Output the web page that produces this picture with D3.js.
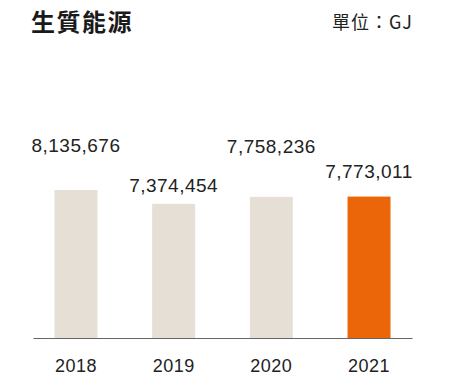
<!DOCTYPE html>
<html>
<head>
<meta charset="utf-8">
<script src="https://cdn.jsdelivr.net/npm/d3@7/dist/d3.min.js"></script>
<style>
  html, body { margin: 0; padding: 0; background: #fff; }
  svg { display: block; }
</style>
</head>
<body>
<div id="chart"></div>
<script>
// Biomass energy use per year (GJ)
const years = ["2018", "2019", "2020", "2021"];
const values = [8135676, 7374454, 7758236, 7773011];
const title = "生質能源";
const unitLabel = "單位：GJ";

const width = 449, height = 375;
const baseY = 338;
const barColors = ["#e6dfd5", "#e6dfd5", "#e6dfd5", "#eb6608"];
// vertical gap between bar top and value label baseline
const labelGaps = [38, 12, 44, 19];

const svg = d3.select("#chart").append("svg")
  .attr("width", width).attr("height", height);

const x = d3.scaleBand().domain(years).range([33, 412]).paddingInner(0.56).paddingOuter(0.22);
const y = d3.scaleLinear().domain([0, 8135676]).range([baseY, 190]);

const numFont = "'Liberation Sans', Arial, Helvetica, sans-serif";
const cjkFont = "'Noto Sans CJK TC', 'Noto Sans CJK SC', sans-serif";

svg.append("text")
  .attr("x", 31).attr("y", 31)
  .attr("font-family", cjkFont).attr("font-weight", 700).attr("font-size", 24)
  .attr("letter-spacing", 1.5)
  .attr("fill", "#1a1a1a").text(title);

svg.append("text")
  .attr("x", 413).attr("y", 29).attr("text-anchor", "end")
  .attr("font-family", cjkFont).attr("font-size", 18)
  .attr("letter-spacing", 1)
  .attr("fill", "#222").text(unitLabel);

svg.selectAll("rect.bar").data(values).join("rect")
  .attr("class", "bar")
  .attr("x", (d, i) => x(years[i]))
  .attr("y", d => y(d))
  .attr("width", x.bandwidth())
  .attr("height", d => baseY - y(d))
  .attr("fill", (d, i) => barColors[i]);

svg.selectAll("text.val").data(values).join("text")
  .attr("class", "val")
  .attr("x", (d, i) => x(years[i]) + x.bandwidth() / 2)
  .attr("y", (d, i) => y(d) - labelGaps[i])
  .attr("text-anchor", "middle")
  .attr("font-family", numFont).attr("font-size", 19)
  .attr("letter-spacing", 0.5)
  .attr("fill", "#222")
  .text(d => d3.format(",")(d));

const axis = svg.append("g").attr("transform", `translate(0,${baseY})`)
  .call(d3.axisBottom(x).tickSize(0).tickPadding(0));
axis.select(".domain").attr("stroke", "#666").attr("stroke-width", 1.2);
axis.selectAll("text")
  .attr("dy", 0).attr("y", 34)
  .attr("font-family", numFont).attr("font-size", 18)
  .attr("letter-spacing", 0.5)
  .attr("fill", "#222");
</script>
</body>
</html>
